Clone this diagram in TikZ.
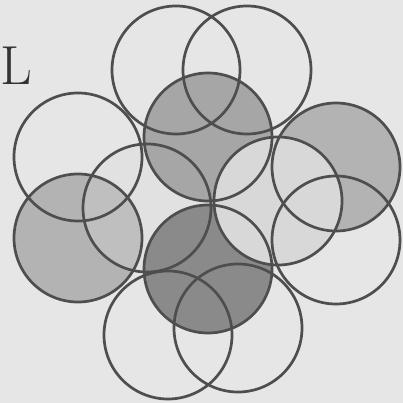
\documentclass[tikz,border=0pt]{standalone}
\usepackage{xcolor}
\definecolor{bgc}{HTML}{E6E6E6}
\definecolor{grayC}{HTML}{A6A6A6}
\definecolor{grayS}{HTML}{B3B3B3}
\definecolor{darkJ}{HTML}{8A8A8A}
\definecolor{lightG}{HTML}{D8D8D8}
\definecolor{linec}{HTML}{4E4E4E}
\begin{document}
\begin{tikzpicture}[x=1pt,y=-1pt,
  ring/.style={draw=linec,line width=2.7pt}]
\def\R{64}
\fill[bgc] (0,0) rectangle (403,403);
\useasboundingbox (0,0) rectangle (403,403);
\coordinate (A) at (176,70);
\coordinate (B) at (247,70);
\coordinate (C) at (208,137);
\coordinate (D) at (78,157);
\coordinate (E) at (336,167);
\coordinate (F) at (147,208);
\coordinate (G) at (278,201);
\coordinate (H) at (336,240);
\coordinate (I) at (78,238);
\coordinate (J) at (208,269);
\coordinate (K) at (168,335);
\coordinate (L) at (238,328);
% fills
\fill[grayS] (I) circle (\R);
\fill[lightG,opacity=0.35] (F) circle (\R);
\fill[grayC] (C) circle (\R);
\fill[darkJ] (J) circle (\R);
\fill[grayS] (E) circle (\R);
\fill[lightG] (G) circle (\R);
% outlines
\foreach \c in {A,B,C,D,E,F,G,H,I,J,K,L}
  \draw[ring] (\c) circle (\R);
\node[anchor=base west,inner sep=0pt,text=black!80,font=\fontsize{55}{55}\selectfont] (Lt) at (0,85) {L};
\end{tikzpicture}
\end{document}
